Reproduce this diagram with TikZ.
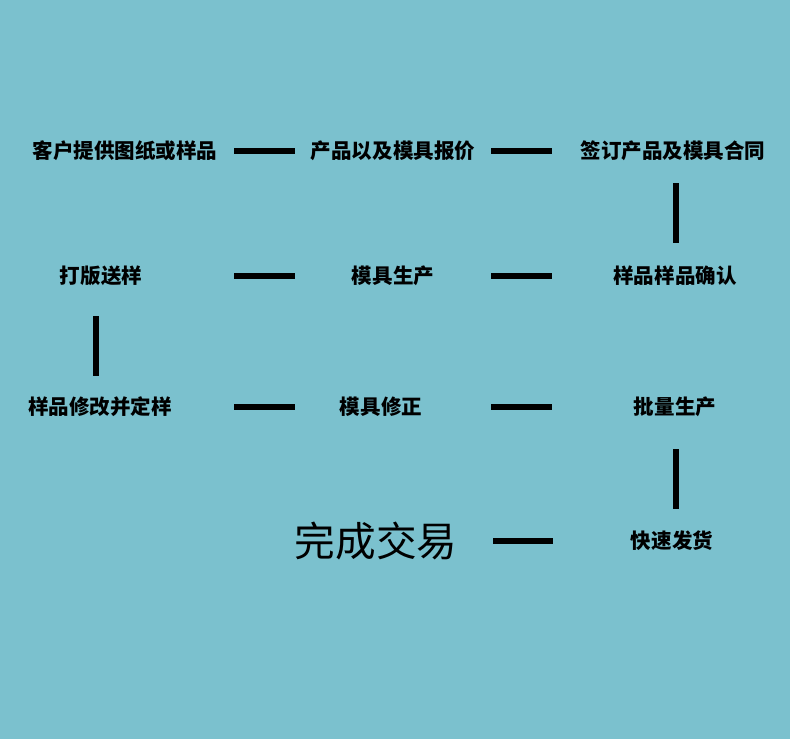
\documentclass[tikz,border=0pt]{standalone}
\usepackage{fontspec}
\newfontfamily\cjk{Noto Sans CJK SC}
\usepackage{tikz}
\definecolor{bgteal}{RGB}{123,193,206}

\begin{document}
\begin{tikzpicture}[x=1bp,y=-1bp,
	step box/.style={font=\cjk\bfseries\fontsize{20.6}{24}\selectfont,inner sep=0pt},
	bar/.style={line width=6bp}]
				\fill[bgteal] (0,0) rectangle (790,739); % 背景
				\node[step box](S1) at (125,151) {客户提供图纸或样品};
				\node[step box](S2) at (393,151) {产品以及模具报价};
				\node[step box](S3) at (673,151) {签订产品及模具合同};
				\node[step box](S4) at (675,276) {样品样品确认};
				\node[step box](S5) at (393,276) {模具生产};
				\node[step box](S6) at (101,276) {打版送样};
				\node[step box](S7) at (100,407) {样品修改并定样};
				\node[step box](S8) at (381,407) {模具修正};
				\node[step box](S9) at (675,407) {批量生产};
				\node[step box](S10) at (672,541) {快速发货};
				\node[font=\cjk\fontsize{40.8}{46}\selectfont,inner sep=0pt](S11) at (376,541) {完成交易};
				\coordinate(h1a) at (234,151);\coordinate(h1b) at (295,151);
				\coordinate(h2a) at (491,151);\coordinate(h2b) at (552,151);
				\coordinate(v1a) at (676,183);\coordinate(v1b) at (676,243);
				\coordinate(h3a) at (491,276);\coordinate(h3b) at (552,276);
				\coordinate(h4a) at (234,276);\coordinate(h4b) at (295,276);
				\coordinate(v2a) at (96,316);\coordinate(v2b) at (96,376);
				\coordinate(h5a) at (234,407);\coordinate(h5b) at (295,407);
				\coordinate(h6a) at (491,407);\coordinate(h6b) at (552,407);
				\coordinate(v3a) at (676,449);\coordinate(v3b) at (676,509);
				\coordinate(h7a) at (493,541);\coordinate(h7b) at (553,541);
				\draw[bar] (h1a) -- (h1b);\draw[bar] (h2a) -- (h2b);
				\draw[bar] (v1a) -- (v1b);
				\draw[bar] (h3a) -- (h3b);\draw[bar] (h4a) -- (h4b);
				\draw[bar] (v2a) -- (v2b);
				\draw[bar] (h5a) -- (h5b);\draw[bar] (h6a) -- (h6b);
				\draw[bar] (v3a) -- (v3b);
				\draw[bar] (h7a) -- (h7b);
			\end{tikzpicture}
\end{document}
